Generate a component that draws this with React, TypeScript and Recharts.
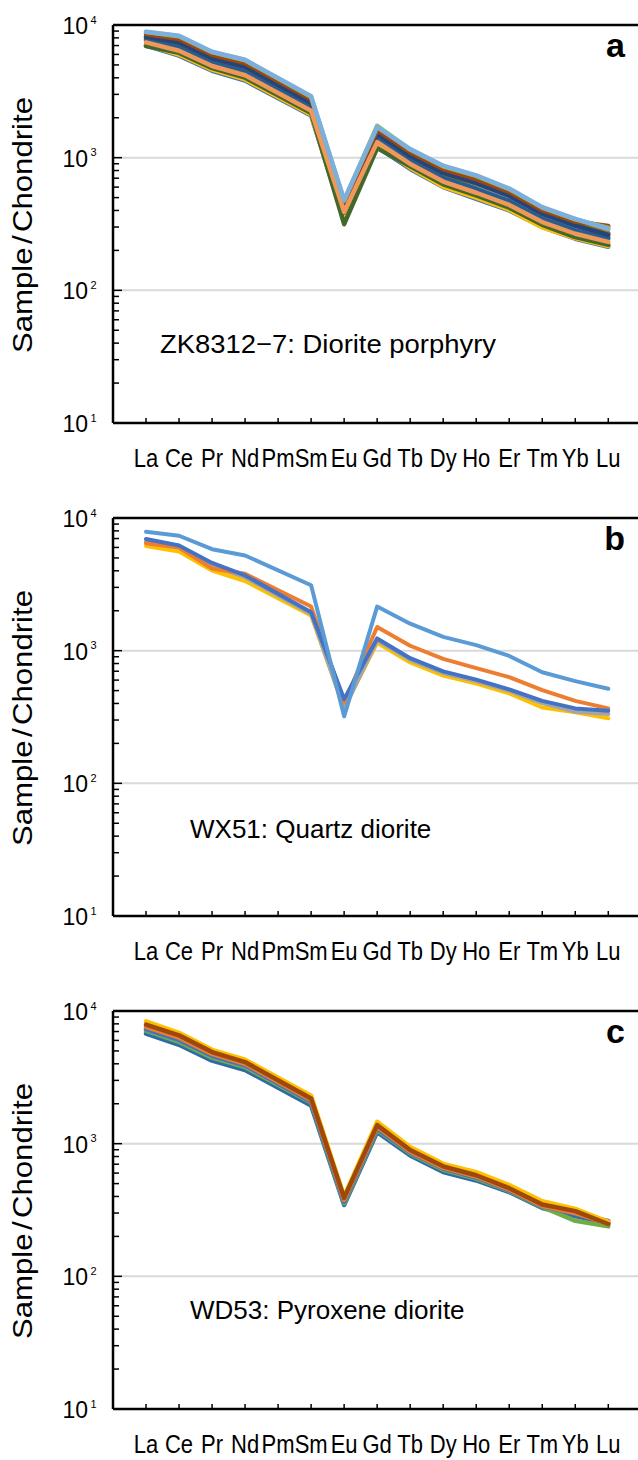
import React from 'react'
import { LineChart, Line, XAxis, YAxis, ReferenceLine } from 'recharts'

const FONT = '"Liberation Sans", Arial, Helvetica, sans-serif'

// REE order, Pm has no analyses
const elements = ['La', 'Ce', 'Pr', 'Nd', 'Pm', 'Sm', 'Eu', 'Gd', 'Tb', 'Dy', 'Ho', 'Er', 'Tm', 'Yb', 'Lu']
const elementTicks = [1, 2, 3, 4, 5, 6, 7, 8, 9, 10, 11, 12, 13, 14, 15]
const logTicks = [
  10, 20, 30, 40, 50, 60, 70, 80, 90,
  100, 200, 300, 400, 500, 600, 700, 800, 900,
  1000, 2000, 3000, 4000, 5000, 6000, 7000, 8000, 9000,
  10000,
]
const decades = [10, 100, 1000, 10000]

// a: ZK8312-7 diorite porphyry
const aBlue = [6980, 5870, 4520, 3810, null, 2075, 335, 1200, 822, 600, 490, 400, 300, 245, 213]
const aGold = [7080, 5990, 4610, 3890, null, 2115, 340, 1225, 840, 605, 500, 405, 298, 248, 216]
const aGray = [7840, 6960, 5320, 4560, null, 2445, 395, 1425, 975, 720, 600, 483, 356, 290, 252]
const aDarkGold = [8040, 7200, 5490, 4720, null, 2530, 410, 1475, 1010, 750, 640, 525, 393, 320, 270]
const aSteel = [7710, 6790, 5190, 4440, null, 2390, 385, 1390, 950, 703, 583, 470, 347, 283, 246]
const aNavy = [8170, 7370, 5620, 4840, null, 2585, 420, 1510, 1030, 767, 642, 515, 377, 308, 262]
const aBrown = [8550, 7850, 5970, 5170, null, 2750, 450, 1610, 1100, 820, 690, 552, 402, 330, 305]
const aDarkGreen = [6940, 6160, 4730, 4010, null, 2170, 315, 1180, 860, 630, 520, 420, 312, 252, 220]
const aSalmon = [7400, 6400, 4910, 4180, null, 2255, 390, 1310, 896, 660, 544, 440, 327, 267, 232]
const aLightGreen = [8840, 8220, 6240, 5420, null, 2875, 475, 1740, 1150, 860, 728, 580, 420, 343, 296]
const aLightBlue = [8900, 8290, 6290, 5470, null, 2900, 480, 1700, 1160, 870, 735, 585, 424, 346, 290]

// b: WX51 quartz diorite
const bGold = [6160, 5590, 4020, 3350, null, 1840, 373, 1146, 815, 649, 565, 476, 373, 343, 309]
const bGray = [6630, 5980, 4330, 3580, null, 1893, 362, 1200, 853, 679, 589, 497, 402, 346, 333]
const bOrange = [6440, 5980, 4160, 3800, null, 2150, 406, 1507, 1089, 867, 739, 631, 505, 418, 367]
const bBlue = [6950, 6200, 4580, 3690, null, 1950, 431, 1236, 877, 698, 605, 511, 418, 367, 352]
const bLightBlue = [7870, 7350, 5820, 5220, null, 3110, 320, 2150, 1596, 1270, 1102, 912, 687, 589, 516]

// c: WD53 pyroxene diorite
const cSteel = [6760, 5560, 4220, 3590, null, 1940, 345, 1223, 816, 611, 528, 432, 327, 285, 250]
const cGreen = [7100, 5850, 4450, 3780, null, 2040, 355, 1270, 845, 635, 545, 440, 333, 262, 238]
const cBlue = [7300, 6050, 4600, 3900, null, 2080, 365, 1300, 860, 650, 556, 446, 338, 295, 262]
const cOrange = [7600, 6300, 4750, 4000, null, 2130, 378, 1340, 875, 660, 566, 452, 340, 300, 250]
const cGold = [8350, 6850, 5100, 4300, null, 2300, 400, 1460, 945, 705, 610, 488, 368, 322, 258]
const cBrown = [7900, 6550, 4900, 4120, null, 2190, 390, 1380, 895, 675, 578, 462, 348, 310, 248]

type Series = { color: string; values: (number | null)[] }

const panelA: Series[] = [
  { color: '#4472C4', values: aBlue },
  { color: '#FFC000', values: aGold },
  { color: '#A5A5A5', values: aGray },
  { color: '#997300', values: aDarkGold },
  { color: '#255E91', values: aSteel },
  { color: '#264478', values: aNavy },
  { color: '#9E480E', values: aBrown },
  { color: '#43682B', values: aDarkGreen },
  { color: '#F1975A', values: aSalmon },
  { color: '#8CC168', values: aLightGreen },
  { color: '#7CAFDD', values: aLightBlue },
]
const panelB: Series[] = [
  { color: '#FFC000', values: bGold },
  { color: '#A5A5A5', values: bGray },
  { color: '#ED7D31', values: bOrange },
  { color: '#4472C4', values: bBlue },
  { color: '#5B9BD5', values: bLightBlue },
]
const panelC: Series[] = [
  { color: '#2E6BA6', values: cSteel },
  { color: '#70AD47', values: cGreen },
  { color: '#4472C4', values: cBlue },
  { color: '#ED7D31', values: cOrange },
  { color: '#FFC000', values: cGold },
  { color: '#9E480E', values: cBrown },
]

const toRows = (series: Series[]) =>
  elements.map((el, i) => {
    const row: Record<string, number | string | null> = { x: i + 1, el }
    series.forEach((s, k) => {
      row['s' + k] = s.values[i]
    })
    return row
  })

function YTick({ x, y, payload }: any) {
  const v = payload.value
  const major = decades.includes(v)
  return (
    <g>
      <line x1={x} x2={x + (major ? 9 : 6)} y1={y} y2={y} stroke="#000" strokeWidth={1.5} />
      {major && (
        <>
          <text x={x - 25} y={y + 9} textAnchor="end" fontSize={23} fontFamily={FONT} fill="#000">
            10
          </text>
          <text x={x - 22.5} y={y - 1.5} fontSize={11} fontFamily={FONT} fill="#000">
            {Math.round(Math.log10(v))}
          </text>
        </>
      )}
    </g>
  )
}

function XTick({ x, y, payload }: any) {
  return (
    <g>
      <line x1={x} x2={x} y1={y} y2={y - 5} stroke="#000" strokeWidth={1.5} />
      <text
        transform={`translate(${x},${y + 44}) scale(0.88,1)`}
        textAnchor="middle"
        fontSize={25}
        fontFamily={FONT}
        fill="#000"
      >
        {elements[payload.value - 1]}
      </text>
    </g>
  )
}

function Panel({
  series,
  strokeWidth,
  letter,
  note,
  noteX,
  noteY,
  noteLength,
}: {
  series: Series[]
  strokeWidth: number
  letter: string
  note: string
  noteX: number
  noteY: number
  noteLength?: number
}) {
  const rows = toRows(series)
  return (
    <div style={{ position: 'relative', width: 638, height: 493 }}>
      <LineChart width={638} height={493} data={rows} margin={{ top: 25, right: 0, bottom: 0, left: 0 }}>
        <XAxis
          dataKey="x"
          type="number"
          domain={[0, 15.9]}
          ticks={elementTicks}
          interval={0}
          tickSize={0}
          tickMargin={0}
          tick={<XTick />}
          axisLine={{ stroke: '#000', strokeWidth: 2.5 }}
          height={70}
        />
        <YAxis
          scale="log"
          domain={[10, 10000]}
          allowDataOverflow
          ticks={logTicks}
          interval={0}
          tickSize={0}
          tickMargin={0}
          tick={<YTick />}
          axisLine={{ stroke: '#000', strokeWidth: 2.5 }}
          width={113}
        />
        <ReferenceLine y={100} stroke="#d9d9d9" strokeWidth={2} />
        <ReferenceLine y={1000} stroke="#d9d9d9" strokeWidth={2} />
        <ReferenceLine y={10000} stroke="#000" strokeWidth={2.5} />
        {series.map((s, k) => (
          <Line
            key={k}
            dataKey={'s' + k}
            stroke={s.color}
            strokeWidth={strokeWidth}
            strokeLinejoin="round"
            strokeLinecap="round"
            dot={false}
            activeDot={false}
            connectNulls
            isAnimationActive={false}
          />
        ))}
      </LineChart>
      <svg
        width={638}
        height={493}
        style={{ position: 'absolute', left: 0, top: 0, pointerEvents: 'none' }}
      >
        <text
          transform="translate(32,225) rotate(-90)"
          textAnchor="middle"
          fontSize={28}
          fontFamily={FONT}
          fill="#000"
          textLength={256}
          lengthAdjust="spacingAndGlyphs"
        >
          Sample
          <tspan dx={3}>/</tspan>
          <tspan dx={3}>Chondrite</tspan>
        </text>
        <text
          x={noteX}
          y={noteY}
          fontSize={26}
          fontFamily={FONT}
          fill="#000"
          textLength={noteLength}
          lengthAdjust={noteLength ? 'spacingAndGlyphs' : undefined}
        >
          {note}
        </text>
        <text x={625} y={57} textAnchor="end" fontSize={34} fontWeight="bold" fontFamily={FONT} fill="#000">
          {letter}
        </text>
      </svg>
    </div>
  )
}

export default function App() {
  return (
    <div style={{ position: 'absolute', left: 0, top: 0, width: 638, height: 1460, background: '#fff' }}>
      <Panel
        series={panelA}
        strokeWidth={4.5}
        letter="a"
        note="ZK8312−7: Diorite porphyry"
        noteX={160}
        noteY={353}
        noteLength={336}
      />
      <Panel series={panelB} strokeWidth={4} letter="b" note="WX51: Quartz diorite" noteX={190} noteY={345} />
      <Panel series={panelC} strokeWidth={4.5} letter="c" note="WD53: Pyroxene diorite" noteX={190} noteY={333} />
    </div>
  )
}
